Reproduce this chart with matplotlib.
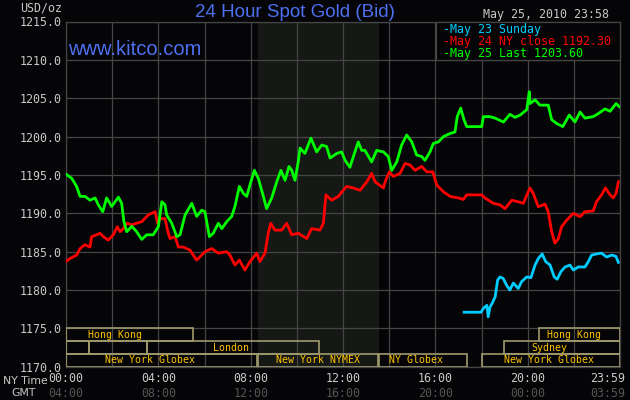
import matplotlib
matplotlib.use('Agg')
import matplotlib.pyplot as plt
from matplotlib.patches import Rectangle

# May 25 (green), hours after 00:00 NY time and bid price
may25_h = [0.0, 0.25, 0.46, 0.61, 0.82, 1.04, 1.26, 1.40, 1.59, 1.76, 1.98, 2.27, 2.41, 2.51, 2.63,
           2.85, 3.06, 3.28, 3.50, 3.78, 4.00, 4.15, 4.29, 4.36, 4.58, 4.80, 4.94, 5.16, 5.45, 5.66,
           5.88, 6.02, 6.21, 6.38, 6.60, 6.75, 6.96, 7.18, 7.32, 7.51, 7.68, 7.83, 7.97, 8.16, 8.33,
           8.55, 8.69, 8.91, 9.13, 9.31, 9.49, 9.66, 9.78, 9.92, 10.06, 10.14, 10.35, 10.61, 10.86,
           11.08, 11.29, 11.44, 11.73, 11.94, 12.09, 12.30, 12.45, 12.66, 12.81, 12.95, 13.24, 13.46,
           13.75, 13.96, 14.11, 14.33, 14.54, 14.76, 14.98, 15.19, 15.41, 15.55, 15.77, 15.91, 16.13,
           16.35, 16.64, 16.85, 16.95, 17.10, 17.24, 17.36, 18.01, 18.08, 18.37, 18.59, 18.95, 19.23,
           19.45, 19.67, 19.96, 20.07, 20.10, 20.32, 20.53, 20.75, 20.89, 21.04, 21.26, 21.52, 21.80,
           22.05, 22.27, 22.48, 22.84, 23.06, 23.35, 23.57, 23.83, 23.97]
may25_p = [1195.1, 1194.55, 1193.5, 1192.2, 1192.2, 1191.7, 1192.0, 1191.1, 1190.2, 1192.0, 1190.9,
           1192.1, 1191.3, 1188.9, 1187.6, 1188.3, 1187.6, 1186.6, 1187.2, 1187.2, 1188.25, 1191.5,
           1191.1, 1189.8, 1188.7, 1186.95, 1187.2, 1189.8, 1191.3, 1189.6, 1190.4, 1190.2, 1186.95,
           1187.4, 1188.7, 1188.0, 1188.9, 1189.6, 1190.9, 1193.5, 1192.6, 1192.2, 1193.7, 1195.6,
           1194.55, 1192.2, 1190.6, 1192.0, 1194.1, 1195.6, 1194.3, 1196.1, 1195.6, 1194.3, 1196.7,
           1198.5, 1197.8, 1199.8, 1198.0, 1198.9, 1198.7, 1197.2, 1197.8, 1198.0, 1196.9, 1196.0,
           1197.4, 1199.3, 1198.2, 1198.2, 1196.7, 1198.2, 1198.0, 1197.4, 1195.6, 1196.7, 1198.9,
           1200.2, 1199.3, 1197.6, 1197.4, 1196.9, 1198.0, 1199.1, 1199.3, 1200.0, 1200.4, 1200.6,
           1202.6, 1203.7, 1202.2, 1201.3, 1201.3, 1202.6, 1202.6, 1202.4, 1201.9, 1202.9, 1202.5,
           1202.8, 1203.5, 1205.85, 1204.3, 1204.8, 1204.1, 1204.1, 1204.1, 1202.2, 1201.7, 1201.3,
           1202.8, 1201.9, 1203.2, 1202.4, 1202.6, 1203.0, 1203.6, 1203.3, 1204.3, 1203.9]

# May 24 (red)
may24_h = [0.0, 0.17, 0.46, 0.61, 0.82, 1.04, 1.11, 1.33, 1.47, 1.62, 1.83, 2.05, 2.22, 2.34, 2.48,
           2.63, 2.85, 3.06, 3.28, 3.57, 3.86, 3.97, 4.07, 4.29, 4.43, 4.51, 4.72, 4.87, 5.08, 5.37,
           5.66, 5.88, 6.02, 6.31, 6.60, 6.96, 7.10, 7.32, 7.51, 7.75, 7.97, 8.26, 8.40, 8.62, 8.76,
           8.87, 9.05, 9.34, 9.56, 9.78, 10.06, 10.43, 10.64, 11.00, 11.15, 11.26, 11.51, 11.80, 12.01,
           12.16, 12.45, 12.74, 13.03, 13.24, 13.39, 13.75, 13.85, 14.01, 14.18, 14.47, 14.69, 14.90,
           15.12, 15.41, 15.63, 15.89, 16.06, 16.35, 16.64, 17.00, 17.21, 17.36, 18.01, 18.15, 18.51,
           18.80, 19.02, 19.31, 19.59, 19.81, 20.10, 20.24, 20.46, 20.75, 20.89, 21.04, 21.18, 21.33,
           21.47, 21.69, 21.98, 22.27, 22.48, 22.84, 22.98, 23.20, 23.37, 23.57, 23.71, 23.83, 23.93]
may24_p = [1183.7, 1184.1, 1184.55, 1185.4, 1185.9, 1185.6, 1186.95, 1187.2, 1187.4, 1186.95, 1186.5,
           1187.2, 1188.25, 1187.6, 1188.0, 1188.7, 1188.5, 1188.7, 1188.9, 1189.8, 1190.2, 1188.7,
           1189.3, 1189.3, 1187.4, 1186.7, 1186.95, 1185.6, 1185.6, 1185.2, 1183.9, 1184.55, 1185.0,
           1185.4, 1184.8, 1185.0, 1184.55, 1183.25, 1183.9, 1182.6, 1183.7, 1184.8, 1183.7, 1184.8,
           1187.4, 1188.7, 1187.8, 1187.8, 1188.7, 1187.2, 1187.4, 1186.7, 1188.0, 1187.8, 1188.7,
           1192.4, 1191.7, 1192.2, 1193.0, 1193.5, 1193.3, 1193.0, 1194.1, 1195.2, 1194.1, 1193.3,
           1194.3, 1195.4, 1194.8, 1195.2, 1196.5, 1196.3, 1195.6, 1196.1, 1195.4, 1195.4, 1193.7,
           1192.8, 1192.2, 1192.0, 1191.8, 1192.4, 1192.4, 1192.0, 1191.3, 1191.1, 1190.6, 1191.7,
           1191.5, 1191.3, 1193.3, 1192.6, 1190.85, 1191.2, 1190.2, 1187.6, 1186.1, 1186.7, 1188.25,
           1189.1, 1190.0, 1189.55, 1190.2, 1190.3, 1191.5, 1192.4, 1193.3, 1192.4, 1192.0, 1192.6,
           1194.1]

# May 23 Sunday (cyan), market opens in the evening
may23_h = [17.25, 17.98, 18.08, 18.23, 18.29, 18.37, 18.47, 18.59, 18.70, 18.80, 18.94, 19.09, 19.23,
           19.38, 19.59, 19.74, 19.96, 20.14, 20.32, 20.46, 20.63, 20.78, 20.97, 21.15, 21.28, 21.44,
           21.62, 21.83, 21.98, 22.19, 22.48, 22.63, 22.77, 22.98, 23.20, 23.42, 23.64, 23.82, 23.93]
may23_p = [1177.1, 1177.1, 1177.6, 1178.0, 1176.5, 1177.8, 1178.3, 1179.1, 1181.3, 1181.7, 1181.5,
           1180.6, 1180.0, 1180.9, 1180.2, 1181.1, 1181.7, 1181.6, 1183.25, 1184.1, 1184.7, 1183.7,
           1183.25, 1181.7, 1181.4, 1182.4, 1183.0, 1183.25, 1182.6, 1183.0, 1183.0, 1183.7, 1184.55,
           1184.7, 1184.8, 1184.3, 1184.55, 1184.4, 1183.6]

# trading sessions: (row, start hour, end hour, label, label centre hour)
sessions = [
    (0, 0.0, 5.52, 'Hong Kong', 2.12),
    (0, 20.49, 24.0, 'Hong Kong', 22.0),
    (1, 0.0, 1.01, '', 0),
    (1, 1.01, 3.52, '', 0),
    (1, 3.52, 10.97, 'London', 7.16),
    (1, 18.97, 24.0, 'Sydney', 20.95),
    (2, 0.0, 8.26, 'New York Globex', 3.65),
    (2, 8.33, 13.50, 'New York NYMEX', 10.9),
    (2, 13.55, 17.36, 'NY Globex', 15.18),
    (2, 18.02, 24.0, 'New York Globex', 20.94),
]
pit_open, pit_close = 8.32, 13.56

ny_ticks = [0, 4, 8, 12, 16, 20, 23.46]
ny_labels = ['00:00', '04:00', '08:00', '12:00', '16:00', '20:00', '23:59']
gmt_labels = ['04:00', '08:00', '12:00', '16:00', '20:00', '00:00', '03:59']
legend_rows = ['-May 23 Sunday', '-May 24 NY close 1192.30', '-May 25 Last 1203.60']

BG = '#050508'
GRID = '#454545'
BLUE = '#4d6ff0'
LIGHT = '#c8c8c8'
MONO = 'DejaVu Sans Mono'
W, H = 630.0, 400.0

fig = plt.figure(figsize=(6.3, 4), dpi=100, facecolor=BG)
ax = fig.add_axes([66 / W, 1 - 366.7 / H, 554 / W, 345.2 / H])
ax.set_facecolor(BG)
ax.set_xlim(0, 24)
ax.set_ylim(1170, 1215)

ax.axvspan(pit_open, pit_close, color='#151815', zorder=0, lw=0)
ax.set_xticks(range(0, 25, 2))
ax.set_yticks(range(1170, 1216, 5))
ax.set_yticklabels(['%.1f' % v for v in range(1170, 1216, 5)], family=MONO, fontsize=8.4, color=LIGHT)
ax.set_xticklabels([])
ax.tick_params(length=0, pad=3)
ax.grid(color=GRID, lw=0.9, zorder=1)
ax.set_axisbelow(True)
for s in ax.spines.values():
    s.set_color(GRID)
    s.set_linewidth(0.9)

ax.plot(may24_h, may24_p, color='#ff0000', lw=2.0, zorder=3)
ax.plot(may25_h, may25_p, color='#00ff00', lw=2.0, zorder=3)
ax.plot(may23_h, may23_p, color='#00ccff', lw=2.0, zorder=3)

rowh = 5 / 3.0
for row, a, b, lab, lx in sessions:
    y0 = 1175 - (row + 1) * rowh
    ax.add_patch(Rectangle((a, y0), b - a, rowh, fill=False, edgecolor='#a09a6c', lw=1.2, zorder=4))
    if lab:
        ax.text(lx, y0 + rowh / 2, lab, family=MONO, fontsize=7.1, color='#ffc400',
                ha='center', va='center', zorder=5)

xt = ax.get_xaxis_transform()
for t, a, b in zip(ny_ticks, ny_labels, gmt_labels):
    ax.text(t, -0.034, a, transform=xt, family=MONO, fontsize=8.4, color=LIGHT, ha='center', va='center')
    ax.text(t, -0.078, b, transform=xt, family=MONO, fontsize=8.4, color='#555555', ha='center', va='center')

fig.text(3 / W, 1 - 381 / H, 'NY Time', fontsize=7.8, color=LIGHT, va='center')
fig.text(11 / W, 1 - 393.5 / H, 'GMT', fontsize=7.8, color=LIGHT, va='center')
fig.text(62 / W, 1 - 11.7 / H, 'USD/oz', family=MONO, fontsize=8.4, color=LIGHT, ha='right', va='baseline')

fig.text(295 / W, 1 - 16.7 / H, '24 Hour Spot Gold (Bid)', family='Liberation Sans', fontsize=13.5,
         color=BLUE, ha='center', va='baseline')
fig.text(68 / W, 1 - 55 / H, 'www.kitco.com', family='Liberation Sans', fontsize=14.5,
         color=BLUE, ha='left', va='baseline')
fig.text(483 / W, 1 - 18.3 / H, 'May 25, 2010 23:58', family=MONO, fontsize=8.4, color=LIGHT,
         ha='left', va='baseline')

# legend box
ax.add_patch(Rectangle((435.5 / W, 1 - 60.3 / H), 184.5 / W, 38.5 / H, transform=fig.transFigure,
                       facecolor=BG, edgecolor=GRID, lw=0.9, zorder=6, clip_on=False))
for i, (txt, c) in enumerate(zip(legend_rows, ['#00ccff', '#ff0000', '#00ff00'])):
    fig.text(443 / W, 1 - (33.3 + 11.9 * i) / H, txt, family=MONO, fontsize=8.4, color=c,
             ha='left', va='baseline', zorder=7)

fig.savefig('out.png', dpi=100, facecolor=BG)
